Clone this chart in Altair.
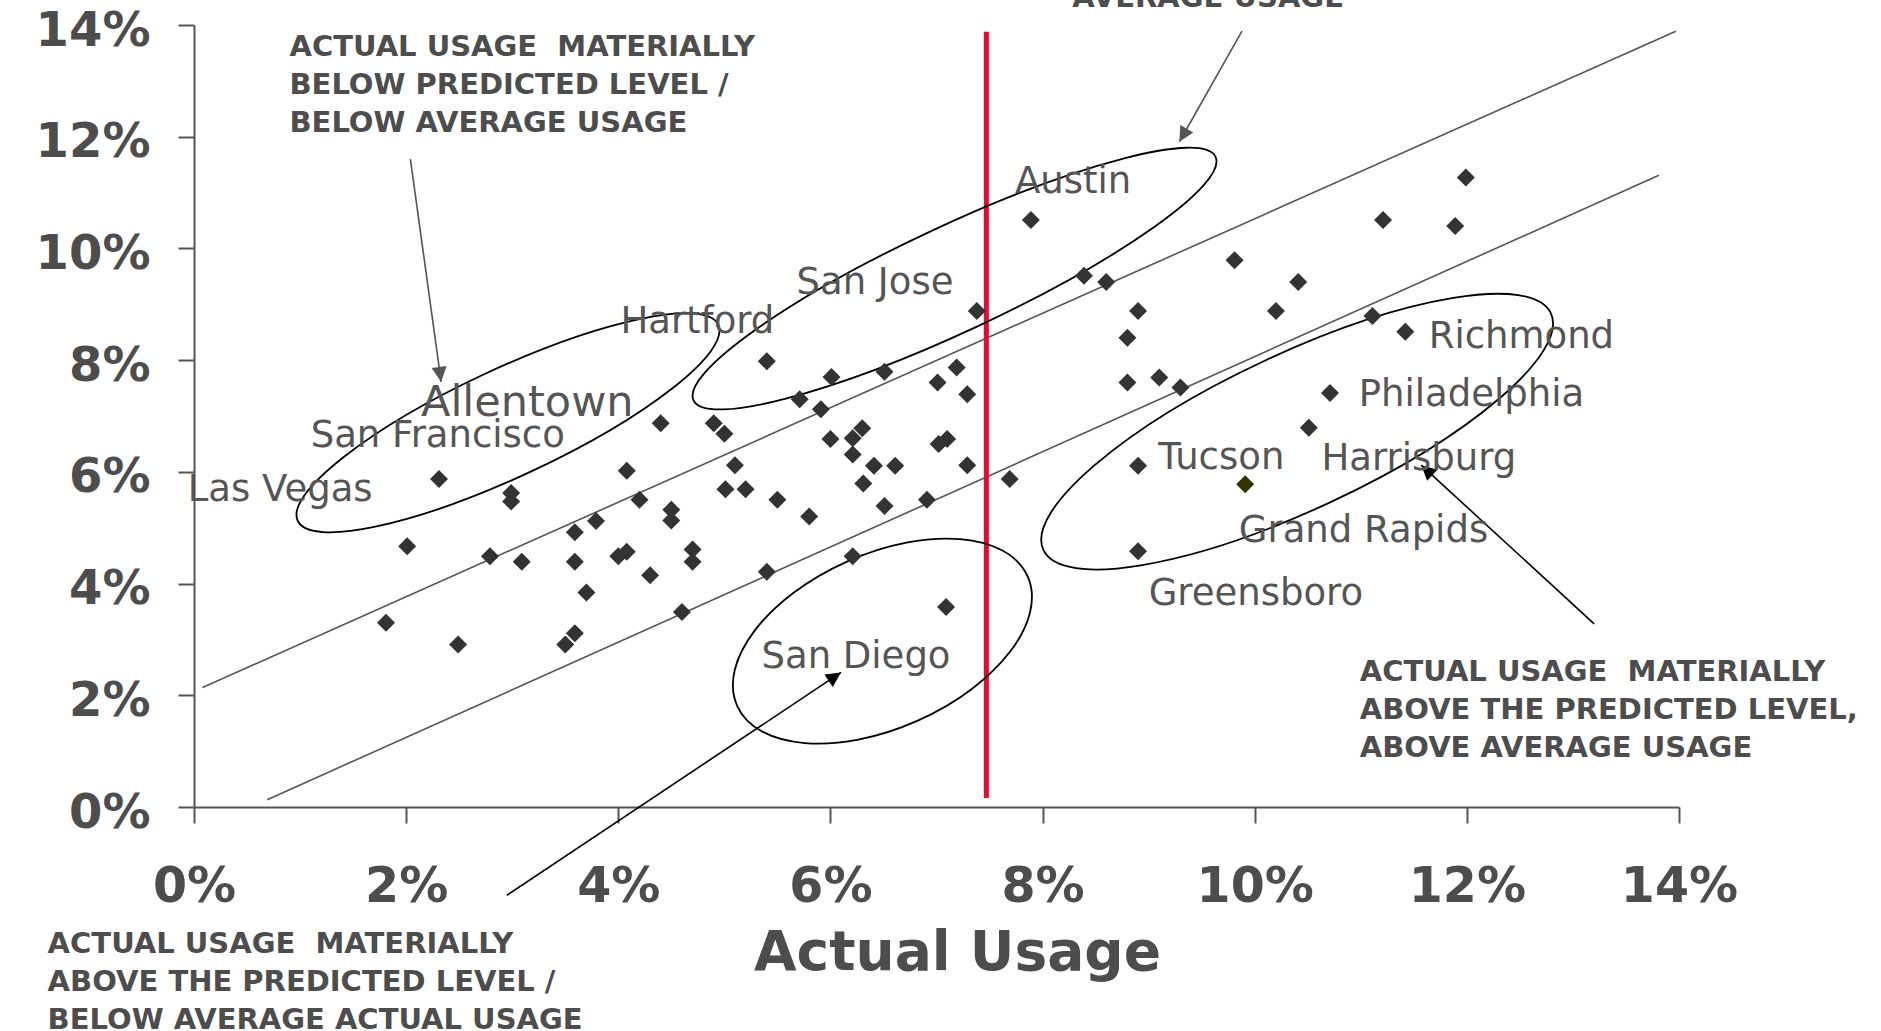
import math

import altair as alt
import pandas as pd

# ---------------------------------------------------------------------------
# Metro areas: actual usage (x, %) vs. predicted usage (y, %)
# ---------------------------------------------------------------------------
actual_usage = [
    1.81, 2.01, 2.31, 2.49, 2.79, 2.99, 2.99, 3.09, 3.50, 3.59,
    3.59, 3.59, 3.70, 3.79, 4.00, 4.08, 4.08, 4.20, 4.30, 4.40,
    4.50, 4.50, 4.60, 4.70, 4.70, 4.90, 5.00, 5.01, 5.10, 5.20,
    5.40, 5.40, 5.50, 5.71, 5.80, 5.91, 6.01, 6.00, 6.21, 6.30,
    6.21, 6.31, 6.21, 6.41, 6.51, 6.51, 6.61, 6.91, 7.01, 7.02,
    7.10, 7.09, 7.19, 7.29, 7.29, 7.38, 7.69, 7.89, 8.39, 8.60,
    8.80, 8.90, 8.80, 9.10, 9.30, 8.90, 8.90, 9.81, 10.20, 10.41,
    10.51, 10.71, 11.11, 11.21, 11.42, 11.89, 11.99,
]
predicted_usage = [
    3.30, 4.67, 5.87, 2.91, 4.49, 5.62, 5.47, 4.39, 2.91, 3.11,
    4.92, 4.39, 3.84, 5.12, 4.49, 4.57, 6.02, 5.50, 4.15, 6.87,
    5.32, 5.13, 3.49, 4.61, 4.39, 6.87, 6.68, 5.69, 6.12, 5.69,
    7.98, 4.21, 5.50, 7.30, 5.20, 7.12, 7.70, 6.59, 6.60, 6.78,
    6.31, 5.79, 4.49, 6.11, 7.79, 5.39, 6.11, 5.50, 7.60, 6.50,
    6.59, 3.58, 7.87, 7.39, 6.12, 8.88, 5.87, 10.51, 9.51, 9.40,
    8.40, 8.88, 7.60, 7.69, 7.51, 6.11, 4.58, 9.79, 8.88, 9.40,
    6.79, 7.41, 8.79, 10.51, 8.51, 10.40, 11.27,
]

# Grand Rapids is drawn in its own colour
highlight_actual = [9.91]
highlight_predicted = [5.78]

# Prediction band (upper and lower bounds)
band_x_start = [0.08, 0.69]
band_y_start = [2.14, 0.13]
band_x_end = [13.97, 13.81]
band_y_end = [13.89, 11.31]

# Average actual usage
average_usage = [7.47]
average_y_from = [0.16]
average_y_to = [13.88]

# Metro labels
metro_names = [
    "Las Vegas", "San Francisco", "Hartford", "San Jose", "Austin",
    "Richmond", "Philadelphia", "Tucson", "Harrisburg", "Grand Rapids",
    "Greensboro", "San Diego",
]
metro_label_x = [-0.06, 1.10, 4.02, 5.68, 7.74, 11.64, 10.98, 9.09, 10.63, 9.85, 9.00, 5.35]
metro_label_y = [5.47, 6.45, 8.49, 9.18, 10.99, 8.21, 7.18, 6.06, 6.03, 4.75, 3.62, 2.48]

big_label = ["Allentown"]
big_label_x = [2.14]
big_label_y = [7.00]

# Quadrant notes (a no-break space keeps the double gap visible in SVG)
GAP = " \u00a0"
notes = [
    f"ACTUAL USAGE{GAP}MATERIALLY\nBELOW PREDICTED LEVEL /\nBELOW AVERAGE USAGE",
    "AVERAGE USAGE",
    f"ACTUAL USAGE{GAP}MATERIALLY\nABOVE THE PREDICTED LEVEL,\nABOVE AVERAGE USAGE",
    f"ACTUAL USAGE{GAP}MATERIALLY\nABOVE THE PREDICTED LEVEL /\nBELOW AVERAGE ACTUAL USAGE",
]
note_x = [0.90, 8.28, 10.99, -1.38]
note_y = [13.44, 14.33, 2.26, -2.61]

# Pointer arrows (from -> to)
arrow_x1 = [2.04, 9.88, 2.95, 13.20]
arrow_y1 = [11.60, 13.89, -1.58, 3.28]
arrow_x2 = [2.33, 9.29, 6.10, 11.57]
arrow_y2 = [7.61, 11.91, 2.41, 6.12]
arrow_colors = ["#555555", "#555555", "#000000", "#000000"]

# Group outlines: centre in data units, semi-axes in px, tilt in degrees
ellipse_x = [2.96, 7.17, 6.49, 10.40]
ellipse_y = [6.88, 9.46, 2.97, 6.72]
ellipse_major = [232, 288, 159, 280]
ellipse_minor = [54, 53, 87, 78]
ellipse_tilt = [25, 25, 24, 25]

# ---------------------------------------------------------------------------
PLOT_W, PLOT_H = 1485, 782
MAX_PCT = 14
KX, KY = PLOT_W / MAX_PCT, PLOT_H / MAX_PCT
GREY = "#4d4d4d"
FONT = "DejaVu Sans"

x_scale = alt.Scale(domain=[0, MAX_PCT], nice=False, zero=False)
y_scale = alt.Scale(domain=[0, MAX_PCT], nice=False, zero=False)

x_axis = alt.Axis(
    values=list(range(0, 15, 2)), labelExpr="datum.value + '%'", grid=False,
    title="Actual Usage", titleFont=FONT, titleFontSize=55, titleFontWeight="bold",
    titleColor=GREY, titleX=763, titleY=162, titleBaseline="alphabetic", titleAlign="center",
    tickSize=16, tickWidth=2, tickColor="#555555", domainColor="#555555", domainWidth=2,
    labelFont=FONT, labelFontSize=49, labelFontWeight="bold", labelColor=GREY,
    labelBaseline="alphabetic", labelPadding=78, labelFlush=False, labelOverlap=False,
    labelBound=False,
)
y_axis = alt.Axis(
    values=list(range(0, 15, 2)), labelExpr="datum.value + '%'", grid=False, title=None,
    tickSize=16, tickWidth=2, tickColor="#555555", domainColor="#555555", domainWidth=2,
    labelFont=FONT, labelFontSize=48, labelFontWeight="bold", labelColor=GREY,
    labelBaseline="alphabetic", labelOffset=20, labelPadding=28, labelAlign="right",
    labelFlush=False, labelOverlap=False, labelBound=False,
)


def X(field):
    return alt.X(field, type="quantitative", scale=x_scale, axis=x_axis)


def Y(field):
    return alt.Y(field, type="quantitative", scale=y_scale, axis=y_axis)


# Prediction band lines
band_df = pd.DataFrame({"x": band_x_start, "y": band_y_start, "x2": band_x_end, "y2": band_y_end})
band = alt.Chart(band_df).mark_rule(color="#555555", strokeWidth=1.6).encode(
    x=X("x"), y=Y("y"), x2="x2", y2="y2"
)

# Average usage line
avg_df = pd.DataFrame({"x": average_usage, "y": average_y_from, "y2": average_y_to})
avg = alt.Chart(avg_df).mark_rule(color="#e30b33", strokeWidth=5).encode(
    x=X("x"), y=Y("y"), y2="y2"
)

# Group outlines drawn as elliptical symbols
ell_rows = []
for cx, cy, a, b, t in zip(ellipse_x, ellipse_y, ellipse_major, ellipse_minor, ellipse_tilt):
    r = b / a
    path = f"M-1,0A1,{r:.4f},0,1,0,1,0A1,{r:.4f},0,1,0,-1,0Z"
    ell_rows.append({"x": cx, "y": cy, "path": path, "size": 4 * a * a, "angle": (360 - t) % 360})
ellipses = alt.Chart(pd.DataFrame(ell_rows)).mark_point(
    filled=False, stroke="#000000", strokeWidth=1.8, opacity=1
).encode(
    x=X("x"), y=Y("y"),
    shape=alt.Shape("path:N", scale=None),
    size=alt.Size("size:Q", scale=None),
    angle=alt.Angle("angle:Q", scale=None),
)

# Arrows: shaft + head
arrow_df = pd.DataFrame({
    "x": arrow_x1, "y": arrow_y1, "x2": arrow_x2, "y2": arrow_y2, "color": arrow_colors,
})
arrow_df["angle"] = [
    math.degrees(math.atan2((bx - ax) * KX, (by - ay) * KY)) % 360
    for ax, ay, bx, by in zip(arrow_x1, arrow_y1, arrow_x2, arrow_y2)
]
shafts = alt.Chart(arrow_df).mark_rule(strokeWidth=1.6).encode(
    x=X("x"), y=Y("y"), x2="x2", y2="y2", color=alt.Color("color:N", scale=None)
)
heads = alt.Chart(arrow_df).mark_point(
    shape="M0,0L-0.5,1L0.5,1Z", filled=True, size=900, opacity=1, strokeWidth=0
).encode(
    x=X("x2"), y=Y("y2"), color=alt.Color("color:N", scale=None),
    angle=alt.Angle("angle:Q", scale=None),
)

# Metro points
pts_df = pd.DataFrame({"actual": actual_usage, "predicted": predicted_usage})
points = alt.Chart(pts_df).mark_point(
    shape="diamond", filled=True, size=324, color="#333333", opacity=1
).encode(x=X("actual"), y=Y("predicted"))

hi_df = pd.DataFrame({"actual": highlight_actual, "predicted": highlight_predicted})
highlight = alt.Chart(hi_df).mark_point(
    shape="diamond", filled=True, size=324, color="#333300", opacity=1
).encode(x=X("actual"), y=Y("predicted"))

# Metro labels
lab_df = pd.DataFrame({"name": metro_names, "x": metro_label_x, "y": metro_label_y})
labels = alt.Chart(lab_df).mark_text(
    align="left", baseline="alphabetic", font=FONT, fontSize=37, color="#555555"
).encode(x=X("x"), y=Y("y"), text="name:N")

big_df = pd.DataFrame({"name": big_label, "x": big_label_x, "y": big_label_y})
big_labels = alt.Chart(big_df).mark_text(
    align="left", baseline="alphabetic", font=FONT, fontSize=43, color="#555555"
).encode(x=X("x"), y=Y("y"), text="name:N")

# Quadrant notes
note_df = pd.DataFrame({"note": notes, "x": note_x, "y": note_y})
note_marks = alt.Chart(note_df).mark_text(
    align="left", baseline="alphabetic", font=FONT, fontSize=29, fontWeight="bold",
    color=GREY, lineBreak="\n", lineHeight=38,
).encode(x=X("x"), y=Y("y"), text="note:N")

chart = alt.layer(
    band, avg, ellipses, shafts, heads, points, highlight, labels, big_labels, note_marks
).properties(
    width=PLOT_W,
    height=PLOT_H,
    padding={"left": 194, "top": 25, "right": 202, "bottom": 224},
    autosize=alt.AutoSizeParams(type="none"),
    background="white",
).configure_view(stroke=None)

chart.save("out.html", embed_options={"renderer": "svg", "actions": False})
